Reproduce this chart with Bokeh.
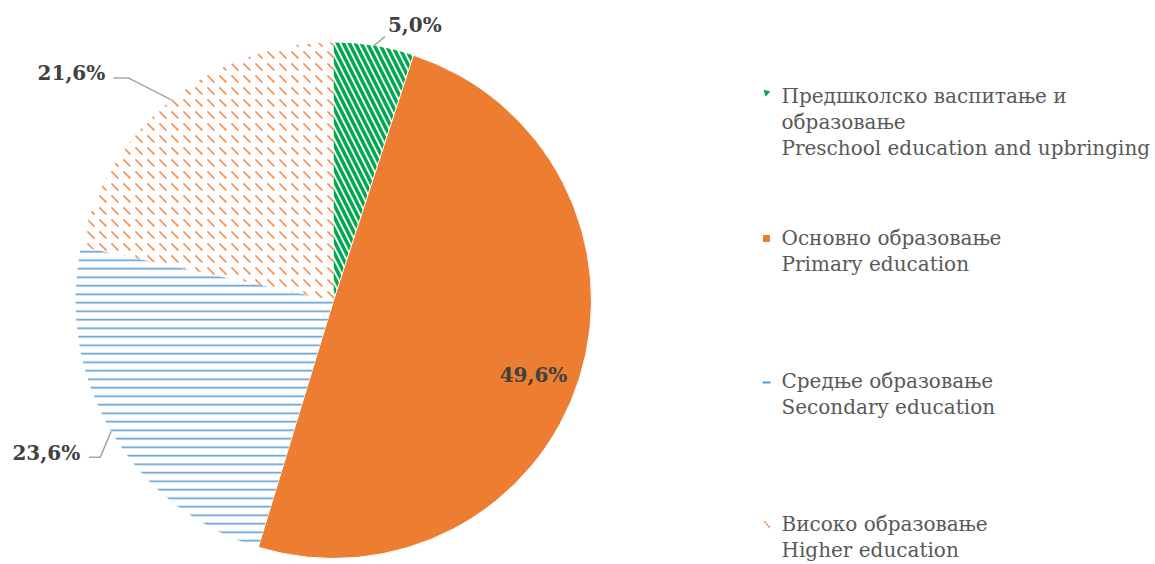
import math
from bokeh.plotting import figure
from bokeh.models import Range1d
from bokeh.core.properties import value
from bokeh.embed import file_html
from bokeh.resources import INLINE

# ---------------- data ----------------
categories_sr = ["Предшколско васпитање и образовање", "Основно образовање",
                 "Средње образовање", "Високо образовање"]
legend_lines = [["Предшколско васпитање и", "образовање", "Preschool education and upbringing"],
                ["Основно образовање", "Primary education"],
                ["Средње образовање", "Secondary education"],
                ["Високо образовање", "Higher education"]]
shares = [5.0, 49.6, 23.6, 21.6]
labels = ["5,0%", "49,6%", "23,6%", "21,6%"]

# ---------------- styles ----------------
colors = ["#00A84F", "#ED7D31", "#5B9BD5", "#ED7D31"]
W, H = 1155, 564
FONT = "DejaVu Serif"


def S(sx, sy):
    """page pixel -> data coordinates"""
    return sx, H - sy


p = figure(width=W, height=H, output_backend="svg", toolbar_location=None,
           x_range=Range1d(0, W), y_range=Range1d(0, H), min_border=0)
p.axis.visible = False
p.grid.visible = False
p.outline_line_color = None
p.background_fill_color = "white"
p.border_fill_color = "white"

cx, cy = S(333, 300)
R = 258

total = sum(shares)
cum = 0.0
starts, ends, mids = [], [], []
for v in shares:
    a0 = math.pi / 2 - 2 * math.pi * cum / total
    cum += v
    a1 = math.pi / 2 - 2 * math.pi * cum / total
    starts.append(a0)
    ends.append(a1)
    mids.append((a0 + a1) / 2)

# slices
p.wedge(x=cx, y=cy, radius=R, radius_units="screen", start_angle=starts[0], end_angle=ends[0],
        direction="clock", fill_color="white", line_color=None,
        hatch_pattern="left_diagonal_line", hatch_color=colors[0], hatch_scale=12, hatch_weight=3.5)
p.wedge(x=cx, y=cy, radius=R, radius_units="screen", start_angle=starts[1], end_angle=ends[1],
        direction="clock", fill_color=colors[1], line_color="white", line_width=1)
p.wedge(x=cx, y=cy, radius=R, radius_units="screen", start_angle=starts[2], end_angle=ends[2],
        direction="clock", fill_color="white", line_color=None,
        hatch_pattern="horizontal_line", hatch_color=colors[2], hatch_scale=8.5, hatch_weight=1.6)
p.wedge(x=cx, y=cy, radius=R, radius_units="screen", start_angle=starts[3], end_angle=ends[3],
        direction="clock", fill_color="white", line_color=None,
        hatch_pattern="left_diagonal_dash", hatch_color=colors[3], hatch_scale=12, hatch_weight=1.6,
        hatch_alpha=0.85)

# ---------------- data labels ----------------
lab_col = "#404040"
lead_col = "#A6A6A6"
LFS = "20px"


def edge(i, r=R):
    return cx + r * math.cos(mids[i]), cy + r * math.sin(mids[i])

ex, ey = edge(0)
p.line([ex, ex + 11], [ey, ey + 9], line_color=lead_col, line_width=1.5)
p.text(x=[ex + 14], y=[ey + 21], text=[labels[0]], text_font=value(FONT), text_font_style="bold",
       text_font_size=LFS, text_color=lab_col, text_baseline="middle", text_align="left")
ex, ey = edge(3)
p.line([ex, ex - 43, ex - 58], [ey, ey + 22, ey + 22], line_color=lead_col, line_width=1.5)
p.text(x=[ex - 66], y=[ey + 27], text=[labels[3]], text_font=value(FONT), text_font_style="bold",
       text_font_size=LFS, text_color=lab_col, text_baseline="middle", text_align="right")
ex, ey = edge(2)
p.line([ex, ex - 11, ex - 22], [ey, ey - 26, ey - 26], line_color=lead_col, line_width=1.5)
p.text(x=[ex - 31], y=[ey - 22], text=[labels[2]], text_font=value(FONT), text_font_style="bold",
       text_font_size=LFS, text_color=lab_col, text_baseline="middle", text_align="right")
ix, iy = S(533, 374)
p.text(x=[ix], y=[iy], text=[labels[1]], text_font=value(FONT), text_font_style="bold",
       text_font_size=LFS, text_color=lab_col, text_baseline="middle", text_align="center")

# ---------------- legend ----------------
leg_col = "#595959"
first_baselines = [95, 237, 380, 523]
line_h = 26
tx = 781
for k, lines in enumerate(legend_lines):
    b0 = first_baselines[k]
    xs, ys, ts = [], [], []
    for j, t in enumerate(lines):
        bl = b0 + j * line_h
        x, y = S(tx, bl)
        xs.append(x); ys.append(y); ts.append(t)
    p.text(x=xs, y=ys, text=ts, text_font=value(FONT), text_font_size="20px",
           text_color=leg_col, text_baseline="alphabetic", text_align="left")

# legend keys
mx, my = S(766, 92)
p.scatter(x=[mx], y=[my], marker="triangle", size=7, angle=math.pi / 4,
          fill_color=colors[0], line_color=None)
mx, my = S(766, 238)
p.rect(x=[mx], y=[my], width=7, height=7, fill_color=colors[1], line_color=None)
x0, y0 = S(762, 382)
x1, y1 = S(770, 382)
p.line([x0, x1], [y0, y1], line_color=colors[2], line_width=2)
x0, y0 = S(764, 521)
x1, y1 = S(770, 528)
p.line([x0, x1], [y0, y1], line_color=colors[3], line_width=1.5, line_dash="2 1")

open("out.html", "w").write(file_html(p, INLINE))
